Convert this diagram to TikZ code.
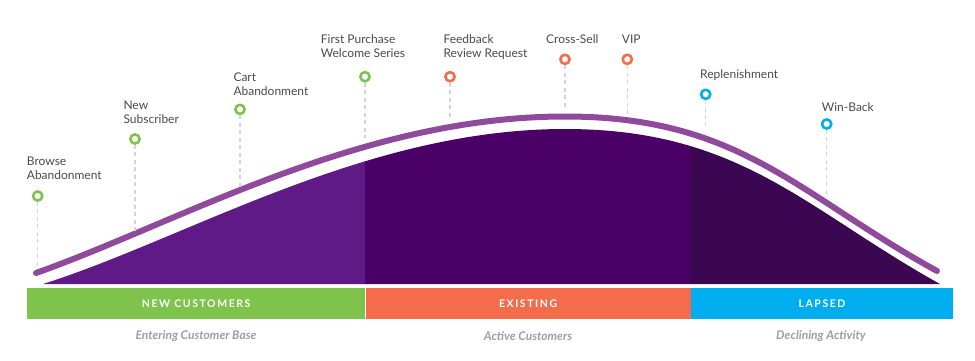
\documentclass[tikz,border=0pt]{standalone}
\usepackage{fontspec}
\setmainfont{Lato}
\usepackage{xcolor}
\usepackage{tikz}
\usetikzlibrary{
  calc,
  positioning
}
\definecolor{LcGreen}{HTML}{7EC34B}
\definecolor{LcOrange}{HTML}{F46C4C}
\definecolor{LcBlue}{HTML}{00AEEF}
\definecolor{LcLine}{HTML}{8F4A9C}
\definecolor{LcText}{HTML}{4A4A4F}
\definecolor{LcNote}{HTML}{9C9CAB}
\definecolor{LcNewFill}{HTML}{5F1A87}
\definecolor{LcActiveFill}{HTML}{4A0067}
\definecolor{LcLapsedFill}{HTML}{3B0752}
\definecolor{LcGuide}{HTML}{D3D3DA}
\tikzset{
  every picture/.style = {line join=round, line cap=round},
  every node/.style = {font=\fontsize{12}{14}\selectfont, text=LcText},
  stage dot/.style = {
    circle,
    draw,
    fill=white,
    line width=2.6pt,
    minimum size=9.2pt,
    inner sep=0pt
  },
  stage dot new/.style = {stage dot, draw=LcGreen},
  stage dot active/.style = {stage dot, draw=LcOrange},
  stage dot lapsed/.style = {stage dot, draw=LcBlue},
  stage label/.style = {
    align=left,
    anchor=north west,
    inner sep=0pt
  },
  drop line/.style = {draw=LcGuide, line width=1.1pt, line cap=butt, dash pattern=on 4pt off 3.5pt},
  life line/.style = {draw=LcLine, line width=6pt},
  phase bar/.style = {
    anchor=west,
    minimum height=31.5pt,
    inner sep=0pt,
    text=white,
    font=\fontsize{10.5}{12}\bfseries\addfontfeatures{LetterSpace=15}\selectfont
  },
  phase note/.style = {
    font=\fontsize{12}{14}\bfseries\itshape\selectfont,
    text=LcNote
  },
}

\begin{document}
\begin{tikzpicture}[x=1pt,y=-1pt]
  \useasboundingbox (0,0) rectangle (975,360);

  % area under the curve, split in three phases
  \begin{scope}
    \clip (43,284) .. controls (188,238) and (365,129) .. (565,129)
      .. controls (740,129) and (805,209) .. (940,284) -- cycle;
    \fill[LcNewFill] (20,100) rectangle (365,290);
    \fill[LcActiveFill] (365,100) rectangle (690,290);
    \fill[LcLapsedFill] (690,100) rectangle (950,290);
  \end{scope}

  \draw[life line] (36,273) .. controls (180,222) and (360,116.5) .. (565,116.5)
    .. controls (740,116.5) and (797,194) .. (937,271);

  % phase bars
  \node[phase bar, fill=LcGreen, minimum width=338pt] (newbar) at (27,303.5) {NEW CUSTOMERS};
  \node[phase bar, fill=LcOrange, minimum width=325pt, right=0pt of newbar] (activebar) {EXISTING};
  \node[phase bar, fill=LcBlue, minimum width=262pt, right=0pt of activebar] (lapsedbar) {LAPSED};

  \node[phase note] (newnote) at (196,336) {Entering Customer Base};
  \node[phase note] (activenote) at (528,336) {Active Customers};
  \node[phase note] (lapsednote) at (821,336) {Declining Activity};

  % milestones
  \node[stage dot new] (browse) at (37.7,196) {};
  \node[stage dot new] (subscriber) at (135,139) {};
  \node[stage dot new] (cart) at (240,109.3) {};
  \node[stage dot new] (purchase) at (365,76.7) {};
  \node[stage dot active] (feedback) at (450,76.7) {};
  \node[stage dot active] (crosssell) at (565,59.3) {};
  \node[stage dot active] (vip) at (627.3,59.3) {};
  \node[stage dot lapsed] (refill) at (705.7,94.3) {};
  \node[stage dot lapsed] (winback) at (826.7,124) {};

  \node[stage label] (browselabel) at (26.7,157) {Browse\\Abandonment};
  \node[stage label] (subscriberlabel) at (123.3,100.7) {New\\Subscriber};
  \node[stage label] (cartlabel) at (233.3,72.7) {Cart\\Abandonment};
  \node[stage label] (purchaselabel) at (320.7,34.3) {First Purchase\\Welcome Series};
  \node[stage label] (feedbacklabel) at (443.3,34.3) {Feedback\\Review Request};
  \node[stage label] (crossselllabel) at (546,34.7) {Cross-Sell};
  \node[stage label] (viplabel) at (621.7,34.3) {VIP};
  \node[stage label] (refilllabel) at (700,69) {Replenishment};
  \node[stage label] (winbacklabel) at (821.7,102.3) {Win-Back};

  \coordinate (browse end) at (37.7,266);
  \coordinate (subscriber end) at (135,234);
  \coordinate (cart end) at (240,188);
  \coordinate (purchase end) at (365,138);
  \coordinate (feedback end) at (450,118);
  \coordinate (crosssell end) at (565,109);
  \coordinate (vip end) at (627.3,114);
  \coordinate (refill end) at (705.7,126);
  \coordinate (winback end) at (826.7,197);

  \draw[drop line] (browse.south) -- (browse end);
  \draw[drop line] (subscriber.south) -- (subscriber end);
  \draw[drop line] (cart.south) -- (cart end);
  \draw[drop line] (purchase.south) -- (purchase end);
  \draw[drop line] (feedback.south) -- (feedback end);
  \draw[drop line] (crosssell.south) -- (crosssell end);
  \draw[drop line] (vip.south) -- (vip end);
  \draw[drop line] (refill.south) -- (refill end);
  \draw[drop line] (winback.south) -- (winback end);
\end{tikzpicture}
\end{document}
